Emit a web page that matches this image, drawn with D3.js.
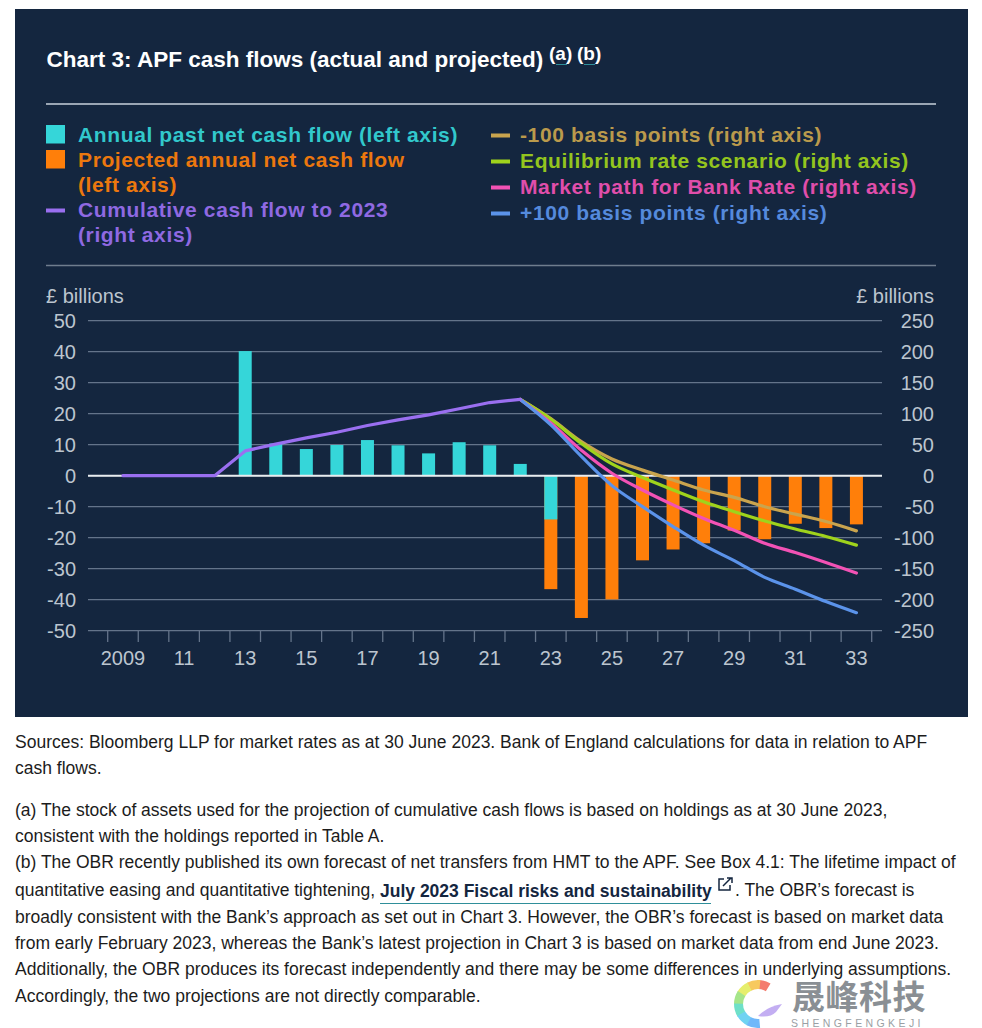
<!DOCTYPE html>
<html><head><meta charset="utf-8">
<script src="https://cdn.jsdelivr.net/npm/d3@7/dist/d3.min.js"></script>
<style>html,body{margin:0;padding:0;background:#fff}svg{display:block}text{font-family:"Liberation Sans",Arial,sans-serif}</style>
</head><body><div id="chart"></div>
<script>
const years = d3.range(2009, 2034);
const xTickYears = [2009,2011,2013,2015,2017,2019,2021,2023,2025,2027,2029,2031,2033];
const leftTicks = [50,40,30,20,10,0,-10,-20,-30,-40,-50];
const rightTicks = [250,200,150,100,50,0,-50,-100,-150,-200,-250];
const pastYears = [2013,2014,2015,2016,2017,2018,2019,2020,2021,2022,2023];
const pastValues = [40.2,10.4,8.6,9.9,11.5,9.8,7.2,10.8,9.8,3.8,-14.1];
const projYears = [2023,2024,2025,2026,2027,2028,2029,2030,2031,2032,2033];
const projValues = [-36.6,-45.9,-39.9,-27.3,-23.8,-21.8,-17.7,-20.5,-15.5,-16.9,-15.7];
const cumYears = d3.range(2009,2023);
const cumValues = [0,0,0,0,40,51,61,70,81,90,98,108,118,123];
const scenYears = d3.range(2022,2034);
const minus100 = [123,92,55,27,9,-7,-23,-35,-50,-62,-74,-89];
const equilibrium = [123,91,52,19,-3,-23,-42,-58,-73,-86,-98,-112];
const marketPath = [123,85,41,4,-23,-47,-69,-88,-109,-124,-140,-157];
const plus100 = [123,82,31,-16,-50,-82,-112,-137,-164,-183,-203,-221];
const colors = {past:"#35d6d9",proj:"#ff7f0a",cum:"#9a6ff0",minus:"#c9a44e",eq:"#9fd31c",mkt:"#f252b5",plus:"#5b93ea"};
const legendLeft = [
 {lines:["Annual past net cash flow (left axis)"],c:colors.past,k:"box"},
 {lines:["Projected annual net cash flow","(left axis)"],c:colors.proj,k:"box"},
 {lines:["Cumulative cash flow to 2023","(right axis)"],c:colors.cum,k:"line"}];
const legendRight = [
 {lines:["-100 basis points (right axis)"],c:colors.minus,k:"line"},
 {lines:["Equilibrium rate scenario (right axis)"],c:colors.eq,k:"line"},
 {lines:["Market path for Bank Rate (right axis)"],c:colors.mkt,k:"line"},
 {lines:["+100 basis points (right axis)"],c:colors.plus,k:"line"}];
const notes = [
 ["Sources: Bloomberg LLP for market rates as at 30 June 2023. Bank of England calculations for data in relation to APF",747.7],
 ["cash flows.",773.7],
 ["(a) The stock of assets used for the projection of cumulative cash flows is based on holdings as at 30 June 2023,",815.7],
 ["consistent with the holdings reported in Table A.",841.7],
 ["(b) The OBR recently published its own forecast of net transfers from HMT to the APF. See Box 4.1: The lifetime impact of",867.7],
 ["broadly consistent with the Bank\u2019s approach as set out in Chart 3. However, the OBR\u2019s forecast is based on market data",923],
 ["from early February 2023, whereas the Bank\u2019s latest projection in Chart 3 is based on market data from end June 2023.",949],
 ["Additionally, the OBR produces its forecast independently and there may be some differences in underlying assumptions.",975],
 ["Accordingly, the two projections are not directly comparable.",1001.7]];

const svg = d3.select("#chart").append("svg").attr("width",982).attr("height",1028);
svg.append("rect").attr("x",15).attr("y",9).attr("width",953).attr("height",708).attr("fill","#14263f");
const T = svg.append("g");
T.append("text").attr("x",46.5).attr("y",67).attr("fill","#fff").attr("font-size",22.5).attr("font-weight",700).text("Chart 3: APF cash flows (actual and projected)");
[["(a)",549],["(b)",577]].forEach(([s,x])=>{
  T.append("text").attr("x",x).attr("y",59.5).attr("fill","#fff").attr("font-size",19).attr("font-weight",700).text(s);
  T.append("line").attr("x1",x+7).attr("x2",x+18).attr("y1",64.5).attr("y2",64.5).attr("stroke","#2f8f9a").attr("stroke-width",1);
});
T.append("line").attr("x1",46).attr("x2",936).attr("y1",104).attr("y2",104).attr("stroke","#9aa6b4").attr("stroke-width",2);
T.append("line").attr("x1",46).attr("x2",936).attr("y1",265.5).attr("y2",265.5).attr("stroke","#6f7d8e").attr("stroke-width",1.5);
function legend(items,xm,xt,y0){
  let y=y0; const lh=25;
  items.forEach(d=>{
    if(d.k==="box") T.append("rect").attr("x",xm).attr("y",y-10).attr("width",19).attr("height",18.5).attr("fill",d.c);
    else T.append("rect").attr("x",xm).attr("y",y-1.5).attr("width",19).attr("height",4).attr("fill",d.c);
    d.lines.forEach((l,i)=>{
      T.append("text").attr("x",xt).attr("y",y+7+i*lh).attr("fill",d.c).attr("font-size",21).attr("letter-spacing",0.62).attr("font-weight",700).attr("opacity",.92).text(l);
    });
    y+=lh*d.lines.length + (items===legendRight?1:0);
  });
}
legend(legendLeft,46,78,135);
legend(legendRight,491,520,135);

const x = d3.scaleBand().domain(years).range([107.7,871.7]).paddingInner(0);
const cx = v=>x(v)+x.bandwidth()/2;
const yL = d3.scaleLinear().domain([-50,50]).range([630.7,320.7]);
const yR = d3.scaleLinear().domain([-250,250]).range([630.7,320.7]);
const barW = 13;
const grid = svg.append("g");
grid.selectAll("line").data(leftTicks).join("line")
  .attr("x1",88).attr("x2",882).attr("y1",d=>yL(d)).attr("y2",d=>yL(d))
  .attr("stroke","#64748a").attr("stroke-width",1.3);
grid.append("g").selectAll("line").data(years.concat([2034])).join("line")
  .attr("x1",d=>d===2034?871.7:x(d)).attr("x2",d=>d===2034?871.7:x(d))
  .attr("y1",630.7).attr("y2",642).attr("stroke","#64748a").attr("stroke-width",1.3);
const tickStyle = "#bcc5cf";
const axL = svg.append("g").attr("transform","translate(76,0)").call(d3.axisLeft(yL).tickValues(leftTicks).tickSize(0).tickPadding(0).tickFormat(d=>d));
const axR = svg.append("g").attr("transform","translate(934,0)").call(d3.axisLeft(yR).tickValues(rightTicks).tickSize(0).tickPadding(0).tickFormat(d=>d));
const axB = svg.append("g").attr("transform","translate(0,630.7)").call(d3.axisBottom(x).tickValues(xTickYears).tickSize(0).tickFormat(d=>d===2009?"2009":String(d%100)));
[axL,axR,axB].forEach(a=>{a.select(".domain").remove();a.selectAll("text").attr("fill",tickStyle).attr("font-size",20).style("font-family",'"Liberation Sans",Arial,sans-serif');});
axB.selectAll("text").attr("dy",31);
svg.append("text").attr("x",46).attr("y",303).attr("fill",tickStyle).attr("font-size",20).text("\u00a3 billions");
svg.append("text").attr("x",934).attr("y",303).attr("text-anchor","end").attr("fill",tickStyle).attr("font-size",20).text("\u00a3 billions");
const pastData = pastYears.map((y,i)=>({y,v:pastValues[i]}));
const projData = projYears.map((y,i)=>({y,v:projValues[i]}));
svg.append("g").selectAll("rect").data(projData).join("rect")
  .attr("x",d=>cx(d.y)-barW/2).attr("width",barW)
  .attr("y",yL(0)).attr("height",d=>yL(d.v)-yL(0)).attr("fill",colors.proj);
svg.append("g").selectAll("rect").data(pastData).join("rect")
  .attr("x",d=>cx(d.y)-barW/2).attr("width",barW)
  .attr("y",d=>yL(Math.max(0,d.v))).attr("height",d=>Math.abs(yL(d.v)-yL(0))).attr("fill",colors.past);
svg.append("line").attr("x1",88).attr("x2",882).attr("y1",yL(0)).attr("y2",yL(0)).attr("stroke","#e8ecef").attr("stroke-width",2);
const line = d3.line().x(d=>cx(d[0])).y(d=>yR(d[1])).curve(d3.curveMonotoneX);
[[minus100,colors.minus],[equilibrium,colors.eq],[marketPath,colors.mkt],[plus100,colors.plus]].forEach(([vals,c])=>{
  svg.append("path").attr("d",line(scenYears.map((y,i)=>[y,vals[i]]))).attr("fill","none").attr("stroke",c).attr("stroke-width",3.2).attr("stroke-linecap","round").attr("stroke-linejoin","round");
});
const lineStraight = d3.line().x(d=>cx(d[0])).y(d=>yR(d[1]));
svg.append("path").attr("d",lineStraight(cumYears.map((y,i)=>[y,cumValues[i]]))).attr("fill","none").attr("stroke",colors.cum).attr("stroke-width",3.2).attr("stroke-linecap","round").attr("stroke-linejoin","round");
const N = svg.append("g").attr("font-size",17.5).attr("fill","#1c1c1c");
notes.forEach(([s,y])=>N.append("text").attr("x",15).attr("y",y).text(s));
N.append("text").attr("x",15).attr("y",895.5).text("quantitative easing and quantitative tightening,");
N.append("text").attr("x",380).attr("y",896.5).attr("font-weight",700).attr("fill","#14263f").text("July 2023 Fiscal risks and sustainability");
N.append("line").attr("x1",380).attr("x2",711).attr("y1",903.5).attr("y2",903.5).attr("stroke","#2f8f9a").attr("stroke-width",1);
N.append("path").attr("d","M724 879h-5v11h11v-5M723 886l8-8M727 878h5v5").attr("fill","none").attr("stroke","#14263f").attr("stroke-width",1.5);
N.append("text").attr("x",735).attr("y",895.5).text(". The OBR\u2019s forecast is");
const W = svg.append("g");
const arc = d3.arc();
const logoStops = [[0.55,"#f47c6e"],[0.1,"#f7c95e"],[-0.45,"#e6ee6c"],[-1.0,"#a5e58a"],[-1.55,"#6fe0c8"],[-2.1,"#6fd3f2"],[-2.65,"#6fb8fa"]];
logoStops.forEach(([a,c])=>{
  W.append("path").attr("transform","translate(758,1004)").attr("d",arc({innerRadius:15,outerRadius:24,startAngle:a,endAngle:a-0.58})).attr("fill",c);
});
W.append("path").attr("d","M782 1004q-14 2-24 12q12 2 18-4z").attr("fill","#c3aef2");
W.append("text").attr("x",792).attr("y",1009).attr("font-size",33).attr("letter-spacing",.5).attr("font-weight",700).attr("fill","#8a8f94").style("font-family",'"Noto Sans CJK SC"').text("晟峰科技");
W.append("text").attr("x",791).attr("y",1026.5).attr("font-size",10.5).attr("letter-spacing",3.4).attr("fill","#9a9fa4").text("SHENGFENGKEJI");
</script></body></html>
